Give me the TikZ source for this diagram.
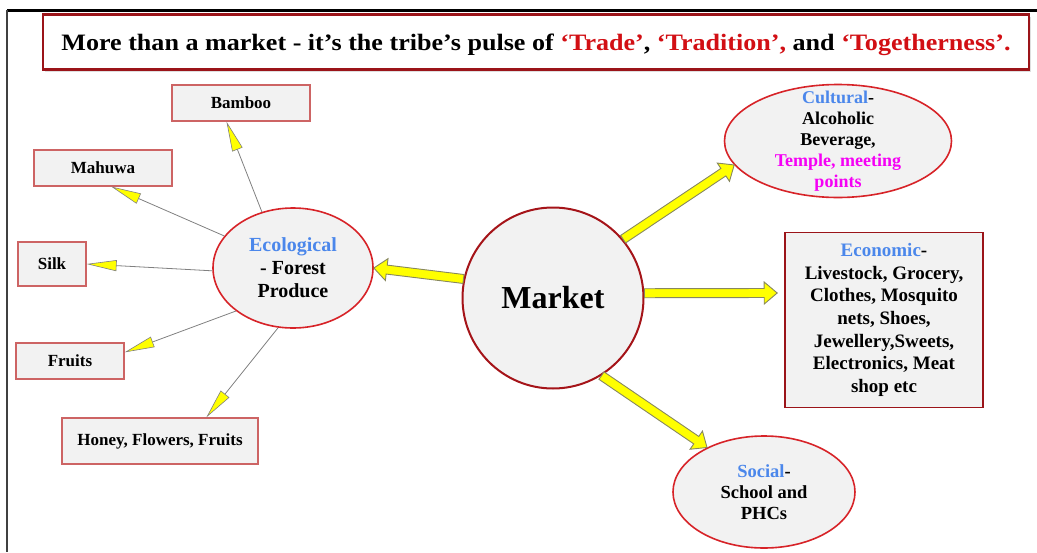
\documentclass[tikz,border=0pt]{standalone}
\usepackage{fontspec}
\setmainfont{Liberation Serif}
\newfontfamily\widefont[FakeStretch=1.11]{Liberation Serif}
\usetikzlibrary{arrows.meta,shapes.geometric,calc,shadows}
\definecolor{framered}{RGB}{155,20,25}
\definecolor{ringred}{RGB}{215,35,40}
\definecolor{marketred}{RGB}{165,20,25}
\definecolor{boxred}{RGB}{205,100,100}
\definecolor{titlered}{RGB}{210,15,20}
\definecolor{headblue}{RGB}{75,135,235}
\definecolor{pinkish}{RGB}{245,0,245}
\definecolor{arrowyellow}{RGB}{255,255,0}
\definecolor{arrowedge}{RGB}{135,135,95}
\definecolor{paleface}{RGB}{242,242,242}

\tikzset{
  leaf/.style={draw=boxred, line width=1.2pt, fill=paleface, inner sep=0pt,
    font=\bfseries\fontsize{17}{20}\selectfont},
  hub/.style={ellipse, draw=ringred, line width=1.6pt, fill=paleface, inner xsep=0pt,
    inner ysep=-14pt, align=center, font=\bfseries\fontsize{18.5}{21}\selectfont},
  twig/.style={draw=gray, line width=0.8pt,
    -{Triangle[length=30pt, width=11pt, fill=arrowyellow, line width=0.6pt]}},
  fatarrow/.style={draw=arrowedge, fill=arrowyellow, line width=0.9pt, line join=miter},
}

% thick yellow block arrow between two points
\newcommand\fatarrow[2]{%
  \draw[fatarrow] let \p1=(#1), \p2=(#2), \p3=($(\p2)!13pt!(\p1)$) in
    ($(\p1)!4.5pt!90:(\p2)$) -- ($(\p3)!4.5pt!90:(\p2)$) -- ($(\p3)!11pt!90:(\p2)$)
    -- (\p2) -- ($(\p3)!11pt!-90:(\p2)$) -- ($(\p3)!4.5pt!-90:(\p2)$)
    -- ($(\p1)!4.5pt!-90:(\p2)$) -- cycle;}

\begin{document}
\begin{tikzpicture}[x=1pt, y=-1pt]
  \useasboundingbox (0,0) rectangle (1037,552);
  \draw[line width=3pt] (7,10) -- (1037,10);
  \draw[line width=2.5pt, black!75] (7,10) -- (7,552);

  \node[draw=framered, line width=2.5pt, fill=white, minimum width=986pt, minimum height=55pt,
    text depth=0pt, drop shadow={shadow xshift=2pt, shadow yshift=-2pt, fill=gray!50},
    font=\widefont\bfseries\fontsize{23.5}{27}\selectfont] (title) at (536,42)
    {More than a market - it’s the tribe’s pulse of \textcolor{titlered}{‘Trade’}, \textcolor{titlered}{‘Tradition’,} and \textcolor{titlered}{‘Togetherness’.}};

  % centre and the four fields
  \node[circle, draw=marketred, line width=2pt, fill=paleface, minimum size=181pt, inner sep=0pt,
    font=\bfseries\fontsize{32}{36}\selectfont] (market) at (553,298) {Market};
  \node[hub, minimum width=160pt, minimum height=120pt, font=\bfseries\fontsize{20}{23}\selectfont] (eco) at (293,268)
    {\textcolor{headblue}{Ecological}\\- Forest\\Produce};
  \node[hub, minimum width=227pt, minimum height=113pt, font=\bfseries\fontsize{18}{21}\selectfont] (cult) at (838,141)
    {\textcolor{headblue}{Cultural}-\\Alcoholic\\Beverage,\\\textcolor{pinkish}{Temple, meeting}\\\textcolor{pinkish}{points}};
  \node[draw=framered, line width=1.6pt, fill=paleface, minimum width=198pt, minimum height=175pt,
    inner sep=0pt, align=center, font=\bfseries\fontsize{19}{22.6}\selectfont] (econ) at (884,320)
    {\textcolor{headblue}{Economic}-\\Livestock, Grocery,\\Clothes, Mosquito\\nets, Shoes,\\Jewellery,Sweets,\\Electronics, Meat\\shop etc};
  \node[hub, minimum width=182pt, minimum height=112pt] (social) at (764,492)
    {\textcolor{headblue}{Social}-\\School and\\PHCs};

  % forest produce
  \node[leaf, minimum width=138pt, minimum height=36pt] (bamboo) at (241,103) {Bamboo};
  \node[leaf, minimum width=138pt, minimum height=36pt] (mahuwa) at (103,168) {Mahuwa};
  \node[leaf, minimum width=68pt, minimum height=44pt] (silk) at (52,264) {Silk};
  \node[leaf, minimum width=108pt, minimum height=36pt] (fruits) at (70,361) {Fruits};
  \node[leaf, minimum width=196pt, minimum height=46pt] (honey) at (160,441) {Honey, Flowers, Fruits};

  \draw[twig] (eco.119) -- (bamboo.232);
  \draw[twig] (eco.155) -- (mahuwa.294);
  \draw[twig] (eco.182) -- (silk.east);
  \draw[twig] (eco.217) -- (fruits.9);
  \draw[twig] (eco.256) -- (honey.27);

  \coordinate (econtip) at ($(econ.west)+(-7,-27)$);
  \fatarrow{market.168}{eco.east}
  \fatarrow{market.40}{cult.193}
  \fatarrow{market.3}{econtip}
  \fatarrow{market.302}{social.142}
\end{tikzpicture}
\end{document}
